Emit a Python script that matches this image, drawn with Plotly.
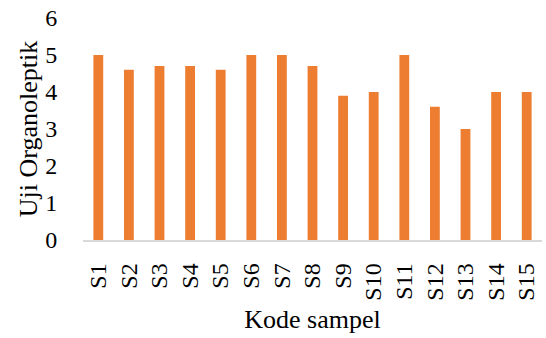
import plotly.graph_objects as go

categories = ["S1", "S2", "S3", "S4", "S5", "S6", "S7", "S8", "S9", "S10", "S11", "S12", "S13", "S14", "S15"]
values = [5.0, 4.6, 4.7, 4.7, 4.6, 5.0, 5.0, 4.7, 3.9, 4.0, 5.0, 3.6, 3.0, 4.0, 4.0]
y_ticks = [0, 1, 2, 3, 4, 5, 6]

font_family = "Liberation Serif, Times New Roman, serif"
fs = 24
fs_title = 26

fig = go.Figure(go.Bar(x=categories, y=values, marker=dict(color="#ED7D31", line=dict(width=0))))

fig.update_layout(
    width=546, height=338,
    margin=dict(l=83, r=4, t=18, b=98, autoexpand=False),
    paper_bgcolor="white", plot_bgcolor="white",
    bargap=0.68,
    showlegend=False,
    font=dict(family=font_family, size=fs, color="black"),
)
fig.update_xaxes(
    tickangle=-90, showline=True, linecolor="#D9D9D9", linewidth=1.5,
    showgrid=False, ticks="", ticklabelstandoff=12, automargin=False,
    tickfont=dict(family=font_family, size=fs, color="black"),
    title=dict(text="Kode sampel", font=dict(family=font_family, size=fs_title, color="black"), standoff=10),
)
fig.update_yaxes(
    range=[0, 6], tickvals=y_ticks, showgrid=False, showline=False, zeroline=False,
    ticks="outside", ticklen=20, tickcolor="rgba(0,0,0,0)", automargin=False,
    tickfont=dict(family=font_family, size=fs, color="black"),
    title=dict(text="Uji Organoleptik", font=dict(family=font_family, size=fs_title, color="black"), standoff=0),
)

fig.write_html("out.html")
